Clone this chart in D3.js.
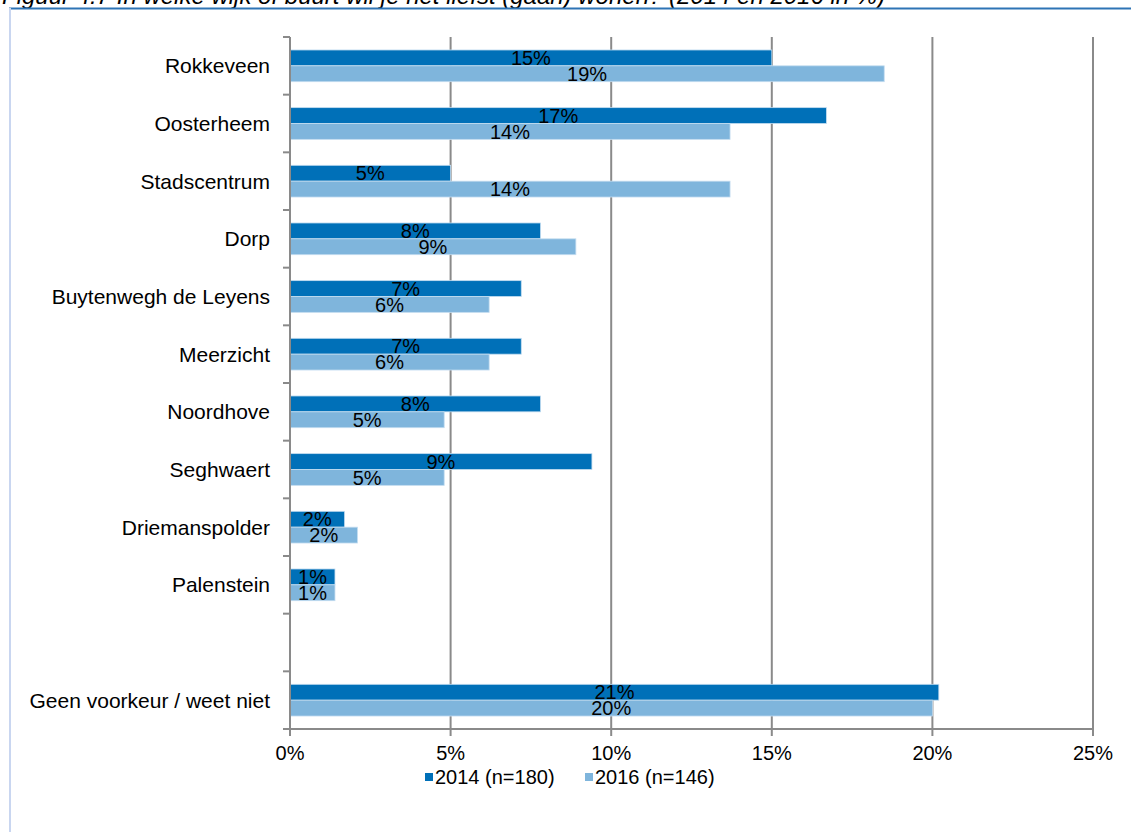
<!DOCTYPE html>
<html>
<head>
<meta charset="utf-8">
<script src="https://cdn.jsdelivr.net/npm/d3@7"></script>
<style>
  body { margin: 0; background: #fff; }
  svg { display: block; font-family: "Liberation Sans", Arial, sans-serif; }
</style>
</head>
<body>
<div id="chart"></div>
<script>
// categories ('' = empty slot in the original chart)
const categories = ['Rokkeveen', 'Oosterheem', 'Stadscentrum', 'Dorp', 'Buytenwegh de Leyens',
  'Meerzicht', 'Noordhove', 'Seghwaert', 'Driemanspolder', 'Palenstein', '', 'Geen voorkeur / weet niet'];
const series = ['2014 (n=180)', '2016 (n=146)'];
const values2014 = [15.0, 16.7, 5.0, 7.8, 7.2, 7.2, 7.8, 9.4, 1.7, 1.4, null, 20.2];
const values2016 = [18.5, 13.7, 13.7, 8.9, 6.2, 6.2, 4.8, 4.8, 2.1, 1.4, null, 20.0];
const labels2014 = ['15%', '17%', '5%', '8%', '7%', '7%', '8%', '9%', '2%', '1%', null, '21%'];
const labels2016 = ['19%', '14%', '14%', '9%', '6%', '6%', '5%', '5%', '2%', '1%', null, '20%'];
const xTicks = [0, 5, 10, 15, 20, 25];
const colors = ['#0070b8', '#7fb5dc'];
const title = 'Figuur 4.7 In welke wijk of buurt wil je het liefst (gaan) wonen? (2014 en 2016 in %)';

const width = 1131, height = 832;
const svg = d3.select('#chart').append('svg')
  .attr('width', width)
  .attr('height', height);

// caption, cut off at the top edge
svg.append('text')
  .attr('x', 2).attr('y', 4)
  .attr('font-size', 24)
  .attr('font-style', 'italic')
  .attr('fill', '#000')
  .text(title);

// frame
svg.append('line').attr('x1', 9).attr('x2', width).attr('y1', 8.5).attr('y2', 8.5)
  .attr('stroke', '#2e74b5').attr('stroke-width', 2);
svg.append('line').attr('x1', 10).attr('x2', 10).attr('y1', 8).attr('y2', height)
  .attr('stroke', '#c9d6f0').attr('stroke-width', 2);

const x = d3.scaleLinear().domain([0, 25]).range([290, 1093]);
const y = d3.scaleBand().domain(d3.range(categories.length))
  .range([37, 729]).paddingInner(0.45).paddingOuter(0.225);
const ySub = d3.scaleBand().domain([0, 1]).range([0, y.bandwidth()]);
const step = y.step();

const gray = '#8a8a8a';

// gridlines (extend down as ticks)
svg.append('g').selectAll('line')
  .data(xTicks.slice(1))
  .join('line')
  .attr('x1', d => x(d)).attr('x2', d => x(d))
  .attr('y1', 37).attr('y2', 736)
  .attr('stroke', gray).attr('stroke-width', 2);

// bars
const rows = categories.map((c, i) => ({ i, vals: [values2014[i], values2016[i]], labs: [labels2014[i], labels2016[i]] }))
  .filter(d => d.vals[0] != null);

const g = svg.append('g').selectAll('g')
  .data(rows)
  .join('g')
  .attr('transform', d => 'translate(0,' + y(d.i) + ')');

g.selectAll('rect')
  .data(d => d.vals.map((v, s) => ({ v, s })))
  .join('rect')
  .attr('x', x(0))
  .attr('y', d => ySub(d.s))
  .attr('width', d => x(d.v) - x(0))
  .attr('height', ySub.bandwidth())
  .attr('fill', d => colors[d.s])
  .attr('stroke', '#c3dcf0')
  .attr('stroke-width', 0.8);

g.selectAll('text')
  .data(d => d.vals.map((v, s) => ({ v, s, lab: d.labs[s] })))
  .join('text')
  .attr('x', d => (x(0) + x(d.v)) / 2)
  .attr('y', d => ySub(d.s) + ySub.bandwidth() / 2)
  .attr('dy', '0.36em')
  .attr('text-anchor', 'middle')
  .attr('font-size', 20)
  .attr('fill', '#000')
  .text(d => d.lab);

// y axis line + ticks between categories
svg.append('line').attr('x1', 290).attr('x2', 290).attr('y1', 37).attr('y2', 736)
  .attr('stroke', gray).attr('stroke-width', 2);
svg.append('g').selectAll('line')
  .data(d3.range(categories.length + 1))
  .join('line')
  .attr('x1', 283).attr('x2', 290)
  .attr('y1', i => 37 + i * step).attr('y2', i => 37 + i * step)
  .attr('stroke', gray).attr('stroke-width', 2);

// x axis line
svg.append('line').attr('x1', 283).attr('x2', 1093).attr('y1', 729).attr('y2', 729)
  .attr('stroke', gray).attr('stroke-width', 2);

// category labels
svg.append('g').selectAll('text')
  .data(categories)
  .join('text')
  .attr('x', 270)
  .attr('y', (c, i) => y(i) + y.bandwidth() / 2)
  .attr('dy', '0.36em')
  .attr('text-anchor', 'end')
  .attr('font-size', 21)
  .attr('fill', '#000')
  .text(c => c);

// x tick labels
svg.append('g').selectAll('text')
  .data(xTicks)
  .join('text')
  .attr('x', d => x(d))
  .attr('y', 760)
  .attr('text-anchor', 'middle')
  .attr('font-size', 20)
  .attr('fill', '#000')
  .text(d => d + '%');

// legend
const legendX = [425, 585];
const lg = svg.append('g').selectAll('g')
  .data(series)
  .join('g')
  .attr('transform', (d, i) => 'translate(' + legendX[i] + ',773)');
lg.append('rect').attr('width', 8).attr('height', 8).attr('fill', (d, i) => colors[i]);
lg.append('text').attr('x', 10).attr('y', 4).attr('dy', '0.36em')
  .attr('font-size', 20).attr('fill', '#000').text(d => d);
</script>
</body>
</html>
